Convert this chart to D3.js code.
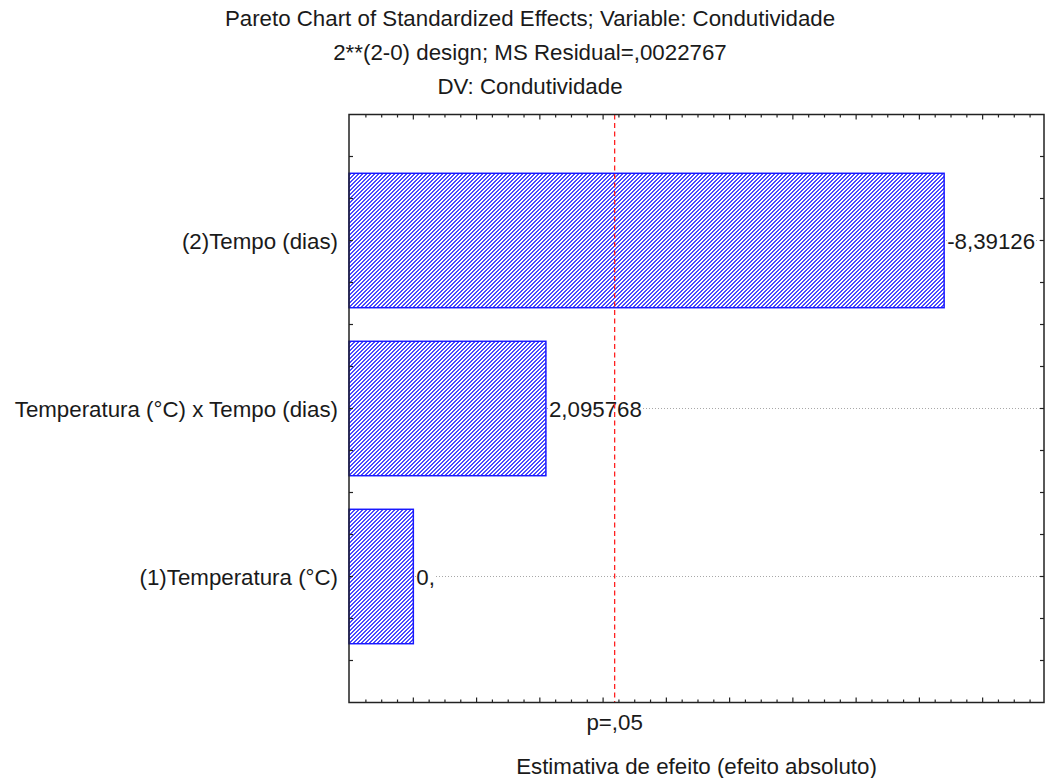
<!DOCTYPE html>
<html>
<head>
<meta charset="utf-8">
<script src="https://cdn.jsdelivr.net/npm/d3@7"></script>
<style>
  html, body { margin: 0; padding: 0; background: #fff; }
  svg { display: block; font-family: "Liberation Sans", Arial, sans-serif; }
</style>
</head>
<body>
<svg id="chart" width="1046" height="778"></svg>
<script>
// ---- data ----
const categories = ["(2)Tempo (dias)", "Temperatura (°C) x Tempo (dias)", "(1)Temperatura (°C)"];
const effects = [8.39126, 2.095768, 0];
const effectLabels = ["-8,39126", "2,095768", "0,"];
const pCritical = 3.182446;
const pLabel = "p=,05";
const titleLines = [
  "Pareto Chart of Standardized Effects; Variable: Condutividade",
  "2**(2-0) design; MS Residual=,0022767",
  "DV: Condutividade"
];
const xTitle = "Estimativa de efeito (efeito absoluto)";

// ---- layout ----
const svg = d3.select("#chart");
const pLeft = 349, pRight = 1044, pTop = 114.5, pBottom = 702.5;
const textColor = "#1a1a1a";
const xMin = -1.017;
const fs = 22.3;

const x = d3.scaleLinear().domain([xMin, 9.97]).range([pLeft, pRight]);
const y = d3.scaleLinear().domain([0.25, 3.75]).range([pTop, pBottom]);
const catPos = categories.map((c, i) => i + 1);

// hatch pattern: pixel diagonal, 2px wide
const defs = svg.append("defs");
const pat = defs.append("pattern")
  .attr("id", "hatch").attr("patternUnits", "userSpaceOnUse")
  .attr("width", 4).attr("height", 4);
pat.append("rect").attr("width", 4).attr("height", 4).attr("fill", "#fff");
[[3, 0], [0, 0], [2, 1], [3, 1], [1, 2], [2, 2], [0, 3], [1, 3]].forEach(([px, py]) => {
  pat.append("rect").attr("x", px).attr("y", py)
    .attr("width", 1).attr("height", 1).attr("fill", "#4a4aff");
});

// titles
svg.append("g").selectAll("text").data(titleLines).join("text")
  .attr("x", 530).attr("y", (d, i) => 26 + i * 34)
  .attr("text-anchor", "middle").attr("font-size", fs)
  .attr("fill", textColor).text(d => d);

// gridlines (dotted) at each category
svg.append("g").selectAll("line").data(catPos).join("line")
  .attr("x1", pLeft).attr("x2", pRight)
  .attr("y1", d => y(d)).attr("y2", d => y(d))
  .attr("stroke", "#a8a8a8").attr("stroke-width", 1)
  .attr("stroke-dasharray", "1,2");

// bars
const barH = y(0.8) - y(0);
svg.append("g").selectAll("rect").data(effects).join("rect")
  .attr("x", x(xMin))
  .attr("y", (d, i) => y(catPos[i]) - barH / 2)
  .attr("width", d => x(d) - x(xMin))
  .attr("height", barH)
  .attr("fill", "url(#hatch)")
  .attr("stroke", "#1a1aff").attr("stroke-width", 1.5);

// value labels with white background
const lblG = svg.append("g");
effects.forEach((v, i) => {
  const g = lblG.append("g");
  const t = g.append("text")
    .attr("x", x(v) + 3).attr("y", y(catPos[i]) + 8)
    .attr("font-size", fs).attr("fill", textColor)
    .text(effectLabels[i]);
  const bb = t.node().getBBox();
  g.insert("rect", "text")
    .attr("x", bb.x).attr("y", y(catPos[i]) - 3)
    .attr("width", bb.width).attr("height", 6).attr("fill", "#fff");
});

// category labels
svg.append("g").selectAll("text").data(categories).join("text")
  .attr("x", pLeft - 11).attr("y", (d, i) => y(catPos[i]) + 8)
  .attr("text-anchor", "end").attr("font-size", fs)
  .attr("fill", textColor).text(d => d);

// critical line
svg.append("line")
  .attr("x1", x(pCritical)).attr("x2", x(pCritical))
  .attr("y1", pTop).attr("y2", pBottom)
  .attr("stroke", "#ff2020").attr("stroke-width", 1.3)
  .attr("stroke-dasharray", "5,3.5");

// ticks
const xMinor = d3.range(-0.75, 9.8, 0.25);
const yTicks = d3.range(0.5, 3.75, 0.25);
const tickG = svg.append("g").attr("stroke", "#222").attr("stroke-width", 1.2);
xMinor.forEach(v => {
  const major = Math.abs(v - Math.round(v)) < 1e-6;
  const len = major ? 5 : 3;
  tickG.append("line").attr("x1", x(v)).attr("x2", x(v))
    .attr("y1", pBottom).attr("y2", pBottom - len);
  tickG.append("line").attr("x1", x(v)).attr("x2", x(v))
    .attr("y1", pTop).attr("y2", pTop + len);
});
yTicks.forEach(v => {
  tickG.append("line").attr("x1", pLeft).attr("x2", pLeft + 4)
    .attr("y1", y(v)).attr("y2", y(v));
  tickG.append("line").attr("x1", pRight).attr("x2", pRight - 4)
    .attr("y1", y(v)).attr("y2", y(v));
});

// frame
svg.append("rect")
  .attr("x", pLeft).attr("y", pTop)
  .attr("width", pRight - pLeft).attr("height", pBottom - pTop)
  .attr("fill", "none").attr("stroke", "#222").attr("stroke-width", 1.5);

// x labels
svg.append("text").attr("x", x(pCritical)).attr("y", 730)
  .attr("text-anchor", "middle").attr("font-size", fs)
  .attr("fill", textColor).text(pLabel);
svg.append("text").attr("x", (pLeft + pRight) / 2).attr("y", 774)
  .attr("text-anchor", "middle").attr("font-size", fs)
  .attr("fill", textColor).text(xTitle);
</script>
</body>
</html>
